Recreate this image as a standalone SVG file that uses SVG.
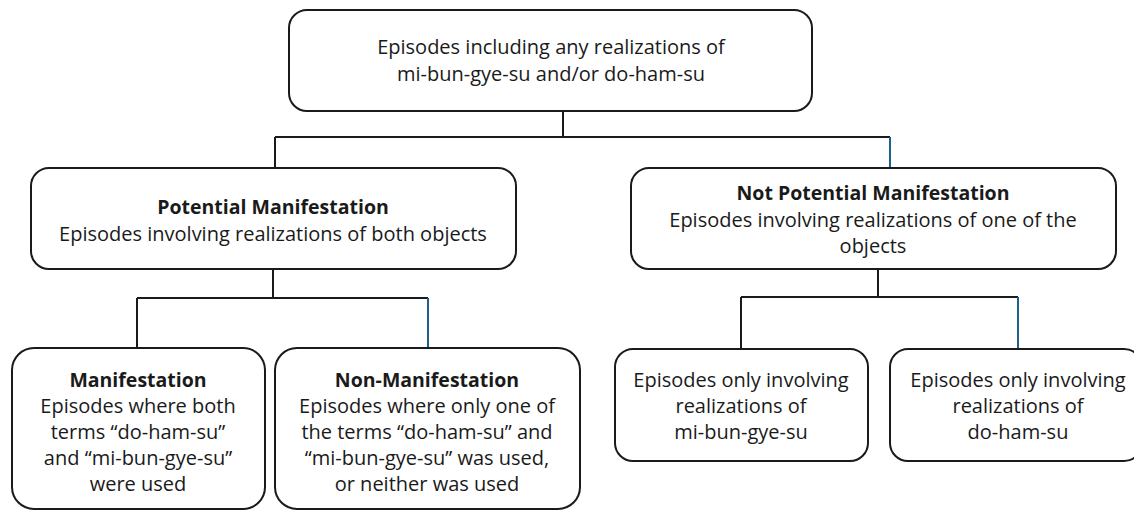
<svg xmlns="http://www.w3.org/2000/svg" width="1134" height="510" viewBox="0 0 1134 510">
<style>
.box{fill:#fff;stroke:#1a1a1a;stroke-width:2}
.t{font-family:"Open Sans","Liberation Sans",Arial,sans-serif;font-size:20px;fill:#1a1a1a;text-anchor:middle}
.b{font-weight:bold;font-size:19.5px}
.c{fill:none;stroke:#1a1a1a;stroke-width:2}
.cb{fill:none;stroke:#1f5f8b;stroke-width:2}
</style>
<rect width="1134" height="510" fill="#fff"/>
<g id="connectors">
<path class="c" d="M563 111V137M275 137H890M275 137V168"/>
<path class="cb" d="M890 137V168"/>
<path class="c" d="M273 269V298M137 298H428M137 298V348"/>
<path class="cb" d="M428 298V348"/>
<path class="c" d="M878 269V297M741 297H1018M741 297V349"/>
<path class="cb" d="M1018 297V349"/>
</g>
<g id="root">
<rect class="box" x="289" y="10" width="523" height="101" rx="18"/>
<text class="t" x="551" y="54">Episodes including any realizations of</text>
<text class="t" x="551" y="81">mi-bun-gye-su and/or do-ham-su</text>
</g>
<g id="potential">
<rect class="box" x="31" y="168" width="485" height="101" rx="18"/>
<text class="t b" x="273" y="214">Potential Manifestation</text>
<text class="t" x="273" y="241">Episodes involving realizations of both objects</text>
</g>
<g id="notpotential">
<rect class="box" x="631" y="168" width="485" height="101" rx="18"/>
<text class="t b" x="873" y="200">Not Potential Manifestation</text>
<text class="t" x="873" y="227">Episodes involving realizations of one of the</text>
<text class="t" x="873" y="253">objects</text>
</g>
<g id="manifestation">
<rect class="box" x="12" y="348" width="253" height="161" rx="22"/>
<text class="t b" x="138" y="387">Manifestation</text>
<text class="t" x="138" y="413">Episodes where both</text>
<text class="t" x="138" y="439">terms “do-ham-su”</text>
<text class="t" x="138" y="465">and “mi-bun-gye-su”</text>
<text class="t" x="138" y="491">were used</text>
</g>
<g id="nonmanifestation">
<rect class="box" x="275" y="348" width="305" height="161" rx="22"/>
<text class="t b" x="427" y="387">Non-Manifestation</text>
<text class="t" x="427" y="413">Episodes where only one of</text>
<text class="t" x="427" y="439">the terms “do-ham-su” and</text>
<text class="t" x="427" y="465">“mi-bun-gye-su” was used,</text>
<text class="t" x="427" y="491">or neither was used</text>
</g>
<g id="onlymi">
<rect class="box" x="615" y="349" width="253" height="112" rx="18"/>
<text class="t" x="741" y="387">Episodes only involving</text>
<text class="t" x="741" y="413">realizations of</text>
<text class="t" x="741" y="439">mi-bun-gye-su</text>
</g>
<g id="onlydo">
<rect class="box" x="890" y="349" width="252" height="112" rx="18"/>
<text class="t" x="1018" y="387">Episodes only involving</text>
<text class="t" x="1018" y="413">realizations of</text>
<text class="t" x="1018" y="439">do-ham-su</text>
</g>
</svg>
